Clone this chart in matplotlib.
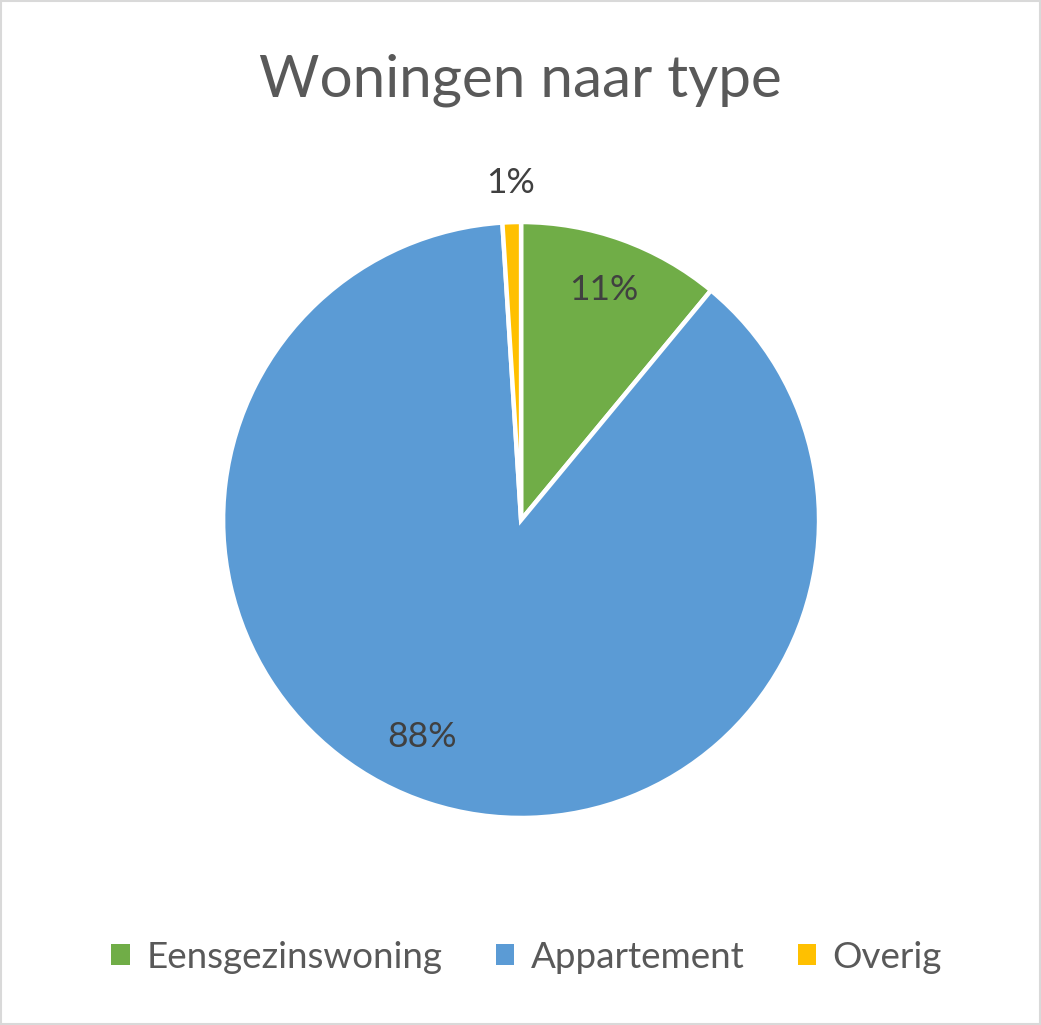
import matplotlib
matplotlib.use('Agg')
import matplotlib.pyplot as plt
import numpy as np
from matplotlib.patches import Rectangle

plt.rcParams['font.family'] = ['Lato', 'DejaVu Sans']

categories = ['Eensgezinswoning', 'Appartement', 'Overig']
shares = [11, 88, 1]
pct_labels = ['11%', '88%', '1%']
colors = ['#70AD47', '#5B9BD5', '#FFC000']

fig = plt.figure(figsize=(10.41, 10.25), dpi=100)
fig.patches.append(Rectangle((0.001, 0.001), 0.998, 0.998, transform=fig.transFigure,
                             fill=False, edgecolor='#D9D9D9', linewidth=1.5))

ax = fig.add_axes([0.2143, 0.2020, 0.5725, 0.5814])
wedges, _ = ax.pie(shares, colors=colors, startangle=90, counterclock=False,
                   wedgeprops=dict(edgecolor='white', linewidth=3.2))
ax.set_xlim(-1, 1)
ax.set_ylim(-1, 1)
ax.set_aspect('equal')

# label placement (Excel "best fit" look)
label_r = [0.82, 0.80, 1.13]
label_shift = [0, -6.5, 0]
for w, txt, r, sh in zip(wedges, pct_labels, label_r, label_shift):
    a = np.deg2rad((w.theta1 + w.theta2) / 2 + sh)
    ax.text(r * np.cos(a), r * np.sin(a), txt, ha='center', va='center',
            fontsize=25.5, color='#404040')

fig.text(0.5, 0.922, 'Woningen naar type', ha='center', va='center',
         fontsize=42, color='#595959')

handles = [Rectangle((0, 0), 1, 1, facecolor=c) for c in colors]
leg = fig.legend(handles, categories, loc='center', bbox_to_anchor=(0.506, 0.066),
                 ncol=3, frameon=False, fontsize=26.5, handlelength=0.5, handleheight=0.5,
                 handletextpad=0.45, columnspacing=1.45)
for t in leg.get_texts():
    t.set_color('#595959')

fig.savefig('out.png', dpi=100)
